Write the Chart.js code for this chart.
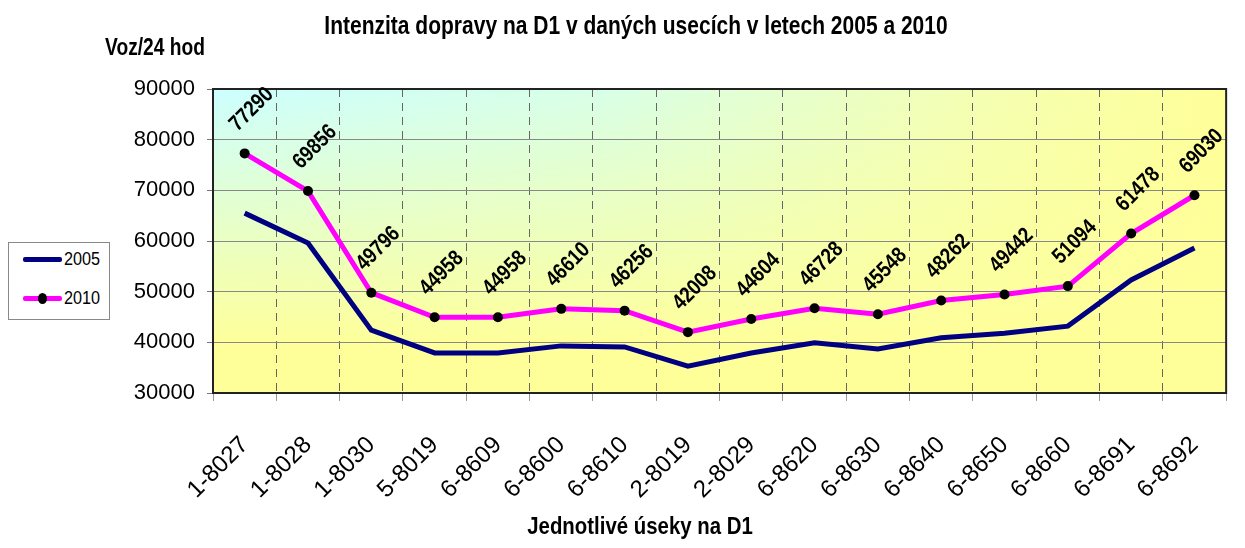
<!DOCTYPE html>
<html>
<head>
<meta charset="utf-8">
<script src="https://cdn.jsdelivr.net/npm/chart.js@4.4.1/dist/chart.umd.min.js"></script>
<style>
  html, body { margin: 0; padding: 0; background: #fff; }
  #wrap { position: relative; width: 1245px; height: 548px; }
  #legend {
    position: absolute; left: 8px; top: 242px; width: 102px; height: 78px;
    border: 1px solid #888; background: #fff; box-sizing: border-box;
    font-family: 'Liberation Sans', Arial, sans-serif; font-size: 18px;
  }
  .item { position: absolute; left: 14px; height: 20px; display: flex; align-items: center; }
  .item span { display: inline-block; transform: scaleX(0.9); transform-origin: left center; }
  .swatch { position: relative; width: 39px; height: 5px; border-radius: 2px; margin-right: 2px; }
  .dot { position: absolute; left: 15px; top: -3px; width: 9px; height: 11px; border-radius: 50%; background: #000; }
</style>
</head>
<body>
<div id="wrap">
  <canvas id="chart" width="1245" height="548"></canvas>
  <div id="legend">
    <div class="item" style="top:6px"><div class="swatch" style="background:#000080"></div><span>2005</span></div>
    <div class="item" style="top:45px"><div class="swatch" style="background:#ff00ff"><div class="dot"></div></div><span>2010</span></div>
  </div>
</div>
<script>
const FONT = "'Liberation Sans', Arial, sans-serif";

const sections = ["1-8027", "1-8028", "1-8030", "5-8019", "6-8609", "6-8600", "6-8610", "2-8019",
                  "2-8029", "6-8620", "6-8630", "6-8640", "6-8650", "6-8660", "6-8691", "6-8692"];

const traffic2005 = [65500, 59600, 42400, 37900, 37900, 39300, 39100, 35300,
                     37900, 39900, 38700, 40900, 41800, 43200, 52300, 58600];

const traffic2010 = [77290, 69856, 49796, 44958, 44958, 46610, 46256, 42008,
                     44604, 46728, 45548, 48262, 49442, 51094, 61478, 69030];

const chartTitle = "Intenzita dopravy na D1 v daných usecích v letech 2005 a 2010";
const yTitle = "Voz/24 hod";
const xTitle = "Jednotlivé úseky na D1";

// narrow-looking text: squeeze horizontally
function squeezedText(ctx, text, x, y, font, sx, angle) {
    ctx.save();
    ctx.translate(x, y);
    if (angle) ctx.rotate(angle);
    ctx.scale(sx, 1);
    ctx.font = font;
    ctx.fillText(text, 0, 0);
    ctx.restore();
}

// gradient background + frame of the plot area
const plotBackground = {
    id: 'plotBackground',
    beforeDraw(chart) {
        const {ctx, chartArea: a} = chart;
        const w = a.right - a.left, h = a.bottom - a.top;
        const gh = ctx.createLinearGradient(a.left, 0, a.right, 0);
        gh.addColorStop(0, '#ccffff');
        gh.addColorStop(0.4, '#d9ffe6');
        gh.addColorStop(0.75, '#f4ffb4');
        gh.addColorStop(1, '#ffff99');
        const gv = ctx.createLinearGradient(0, a.top, 0, a.bottom);
        gv.addColorStop(0, 'rgba(255,255,153,0)');
        gv.addColorStop(0.85, 'rgba(255,255,153,1)');
        gv.addColorStop(1, 'rgba(255,255,153,1)');
        ctx.save();
        ctx.fillStyle = gh;
        ctx.fillRect(a.left, a.top, w, h);
        ctx.fillStyle = gv;
        ctx.fillRect(a.left, a.top, w, h);
        ctx.restore();
    },
    afterDatasetsDraw(chart) {
        const {ctx, chartArea: a} = chart;
        ctx.save();
        ctx.strokeStyle = '#222';
        ctx.lineWidth = 2;
        ctx.strokeRect(a.left, a.top, a.right - a.left, a.bottom - a.top);
        ctx.restore();
    }
};

// rotated value labels above the 2010 points + titles
const valueLabels = {
    id: 'valueLabels',
    afterDraw(chart) {
        const ctx = chart.ctx;
        const meta = chart.getDatasetMeta(1);
        ctx.save();
        ctx.fillStyle = '#000';
        ctx.textAlign = 'center';
        ctx.textBaseline = 'middle';
        meta.data.forEach((pt, i) => {
            squeezedText(ctx, String(traffic2010[i]), pt.x + 7, pt.y - 44, "bold 22px " + FONT, 0.85, -Math.PI / 4);
        });
        squeezedText(ctx, chartTitle, 636, 27, "bold 25px " + FONT, 0.84);
        squeezedText(ctx, yTitle, 155, 48, "bold 24px " + FONT, 0.8);
        squeezedText(ctx, xTitle, 640, 527, "bold 24px " + FONT, 0.85);
        ctx.restore();
    }
};

new Chart(document.getElementById('chart').getContext('2d'), {
    type: 'line',
    data: {
        labels: sections,
        datasets: [{
            label: '2005',
            data: traffic2005,
            borderColor: '#000080',
            borderWidth: 5,
            pointRadius: 0,
            tension: 0,
        },
        {
            label: '2010',
            data: traffic2010,
            borderColor: '#ff00ff',
            borderWidth: 5,
            pointRadius: 5,
            pointBackgroundColor: '#000',
            pointBorderColor: '#000',
            pointBorderWidth: 0,
            tension: 0,
        }]
    },
    options: {
        responsive: false,
        animation: false,
        layout: { padding: { top: 89, right: 3, left: 0, bottom: 0 } },
        plugins: {
            legend: { display: false },
            tooltip: { enabled: false },
        },
        scales: {
            x: {
                offset: true,
                grid: { offset: true, color: '#666', lineWidth: 1, tickColor: '#999', tickLength: 8 },
                border: { dash: [8, 6], color: '#000', width: 2 },
                ticks: {
                    maxRotation: 45, minRotation: 45, padding: 30,
                    color: '#000', font: { family: FONT, size: 24 }
                },
                afterFit(scale) { scale.height = 155; }
            },
            y: {
                min: 30000, max: 90000,
                grid: { color: '#888', lineWidth: 1, tickColor: '#777', tickLength: 6 },
                border: { color: '#000', width: 2 },
                ticks: {
                    stepSize: 10000, padding: 12, color: '#000',
                    font: { family: FONT, size: 22 },
                    callback: (v) => String(v)
                },
                afterFit(scale) { scale.width = 213; }
            }
        }
    },
    plugins: [plotBackground, valueLabels]
});
</script>
</body>
</html>
